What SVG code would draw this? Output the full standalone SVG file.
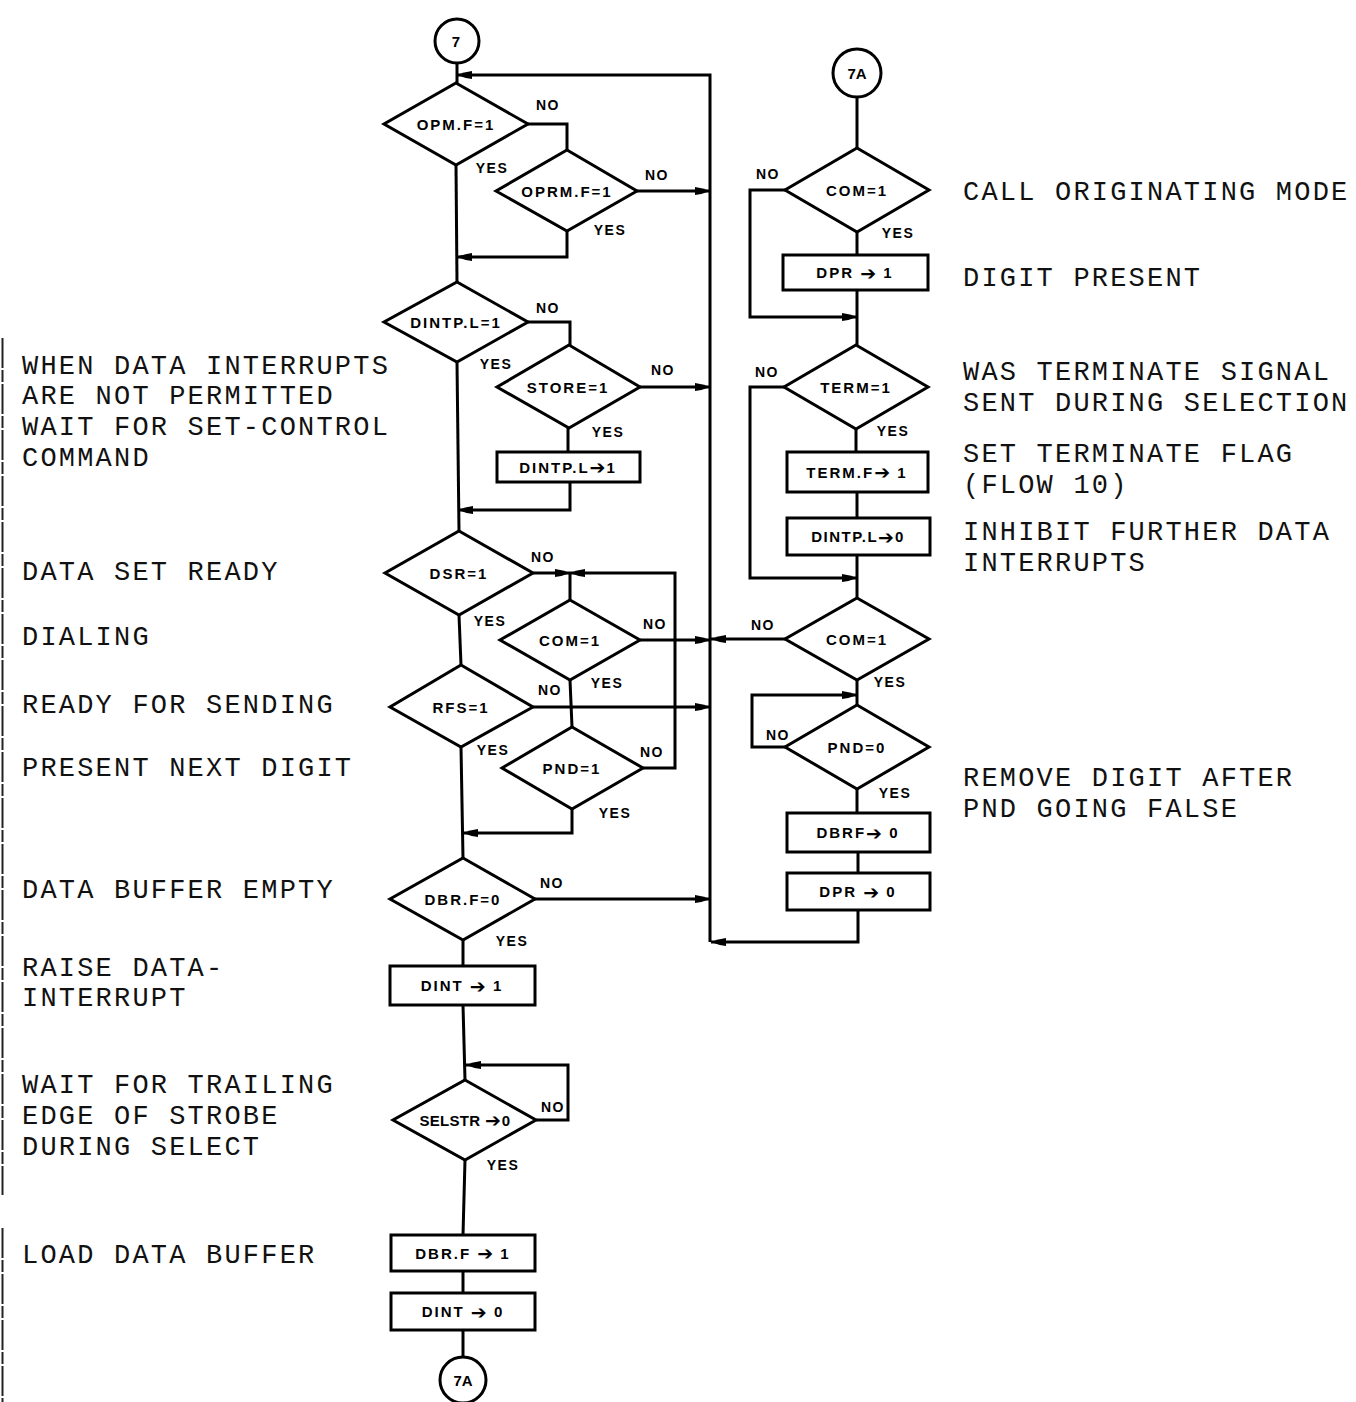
<svg xmlns="http://www.w3.org/2000/svg" width="1356" height="1402" viewBox="0 0 1356 1402">
<style>
.shape{fill:#fff;stroke:#000;stroke-width:3;stroke-linejoin:miter}
.ln{fill:none;stroke:#000;stroke-width:3}
.lbl{font-family:"Liberation Sans",Arial,sans-serif;font-weight:bold;font-size:15px;letter-spacing:2px;text-anchor:middle;dominant-baseline:central;fill:#000}
.ar{font-family:"DejaVu Sans",sans-serif;font-size:19px;letter-spacing:1px}
.yn{font-family:"Liberation Sans",Arial,sans-serif;font-weight:bold;font-size:14px;letter-spacing:1.5px;text-anchor:middle;dominant-baseline:central;fill:#000}
.note{font-family:"Liberation Mono","Courier New",monospace;font-size:27px;letter-spacing:2.2px;fill:#111}
</style>
<defs>
<marker id="ah" markerUnits="userSpaceOnUse" markerWidth="16" markerHeight="10" refX="15" refY="5" orient="auto">
<path d="M0,1 Q8,2 15,5 Q8,8 0,9 Z" fill="#000"/>
</marker>
</defs>
<rect width="1356" height="1402" fill="#fff"/>
<path d="M2.5,338 V1195 M2.5,1228 V1402" stroke="#222" stroke-width="2" stroke-dasharray="30 2 12 2" fill="none"/>

<g id="connectors">
<path class="ln" d="M457,63 V83"/>
<path class="ln" d="M710,942 V75 H457" marker-end="url(#ah)"/>
<path class="ln" d="M527,124 H567 V150"/>
<path class="ln" d="M637,191 H710" marker-end="url(#ah)"/>
<path class="ln" d="M456,165 L457,282"/>
<path class="ln" d="M567,230 V257 H457" marker-end="url(#ah)"/>
<path class="ln" d="M528,322 H570 V345"/>
<path class="ln" d="M640,387 H710" marker-end="url(#ah)"/>
<path class="ln" d="M568,427 V452"/>
<path class="ln" d="M570,482 V510 H458" marker-end="url(#ah)"/>
<path class="ln" d="M457,362 L459,531"/>
<path class="ln" d="M533,573 H570" marker-end="url(#ah)"/>
<path class="ln" d="M643,768 H675 V573 H570" marker-end="url(#ah)"/>
<path class="ln" d="M570,573 V600"/>
<path class="ln" d="M640,640 H710" marker-end="url(#ah)"/>
<path class="ln" d="M570,680 L572,727"/>
<path class="ln" d="M459,615 L461,665"/>
<path class="ln" d="M533,707 H710" marker-end="url(#ah)"/>
<path class="ln" d="M572,809 V833 H463" marker-end="url(#ah)"/>
<path class="ln" d="M461,747 L463,858"/>
<path class="ln" d="M535,899 H710" marker-end="url(#ah)"/>
<path class="ln" d="M463,940 V966"/>
<path class="ln" d="M463,1005 L465,1080"/>
<path class="ln" d="M536,1120 H568 V1065 H466" marker-end="url(#ah)"/>
<path class="ln" d="M465,1160 L463,1235"/>
<path class="ln" d="M463,1271 V1293"/>
<path class="ln" d="M463,1330 V1357"/>
<path class="ln" d="M857,97 V148"/>
<path class="ln" d="M857,232 V255"/>
<path class="ln" d="M785,190 H750 V317 H857" marker-end="url(#ah)"/>
<path class="ln" d="M857,290 V345"/>
<path class="ln" d="M856,429 V452"/>
<path class="ln" d="M857,492 V518"/>
<path class="ln" d="M784,387 H750 V578 H857" marker-end="url(#ah)"/>
<path class="ln" d="M857,555 V598"/>
<path class="ln" d="M785,639 H711" marker-end="url(#ah)"/>
<path class="ln" d="M857,680 V705"/>
<path class="ln" d="M785,747 H752 V695 H857" marker-end="url(#ah)"/>
<path class="ln" d="M857,789 V813"/>
<path class="ln" d="M858,852 V873"/>
<path class="ln" d="M858,910 V942 H711" marker-end="url(#ah)"/>
</g>

<g id="c7"><circle class="shape" cx="457" cy="41" r="22"/><text class="lbl" x="457" y="41">7</text></g>
<g id="opmf"><polygon class="shape" points="456,83 528,124 456,165 384,124"/><text class="lbl" x="456" y="124">OPM.F=1</text></g>
<g id="oprmf"><polygon class="shape" points="567,150 637,191 567,231 496,191"/><text class="lbl" x="567" y="191">OPRM.F=1</text></g>
<g id="dintpl1"><polygon class="shape" points="457,282 528,322 457,362 384,322"/><text class="lbl" x="456" y="322">DINTP.L=1</text></g>
<g id="store"><polygon class="shape" points="569,345 640,387 569,428 497,387"/><text class="lbl" x="568" y="387">STORE=1</text></g>
<g id="setdintpl"><rect class="shape" x="497" y="452" width="143" height="30"/><text class="lbl" x="568" y="467">DINTP.L<tspan class="ar">➔</tspan>1</text></g>
<g id="dsr"><polygon class="shape" points="459,531 533,573 459,615 385,573"/><text class="lbl" x="459" y="573">DSR=1</text></g>
<g id="com1l"><polygon class="shape" points="570,600 640,640 570,680 500,640"/><text class="lbl" x="570" y="640">COM=1</text></g>
<g id="rfs"><polygon class="shape" points="461,665 533,707 461,747 390,707"/><text class="lbl" x="461" y="707">RFS=1</text></g>
<g id="pnd1"><polygon class="shape" points="572,727 643,768 572,809 502,768"/><text class="lbl" x="572" y="768">PND=1</text></g>
<g id="dbrf0"><polygon class="shape" points="463,858 535,899 463,940 390,899"/><text class="lbl" x="463" y="899">DBR.F=0</text></g>
<g id="dint1"><rect class="shape" x="390" y="966" width="145" height="39"/><text class="lbl" x="462" y="985.5">DINT <tspan class="ar">➔</tspan> 1</text></g>
<g id="selstr"><polygon class="shape" points="465,1080 536,1120 465,1160 393,1120"/><text class="lbl" x="465" y="1120" style="letter-spacing:0.3px">SELSTR <tspan class="ar">➔</tspan>0</text></g>
<g id="dbrf1"><rect class="shape" x="391" y="1235" width="144" height="36"/><text class="lbl" x="463" y="1253">DBR.F <tspan class="ar">➔</tspan> 1</text></g>
<g id="dint0"><rect class="shape" x="391" y="1293" width="144" height="37"/><text class="lbl" x="463" y="1311.5">DINT  <tspan class="ar">➔</tspan> 0</text></g>
<g id="c7a_bottom"><circle class="shape" cx="463" cy="1380" r="23"/><text class="lbl" x="463" y="1380" style="letter-spacing:0">7A</text></g>

<g id="c7a_top"><circle class="shape" cx="857" cy="73" r="24"/><text class="lbl" x="857" y="73" style="letter-spacing:0">7A</text></g>
<g id="com1r"><polygon class="shape" points="857,148 929,190 857,232 785,190"/><text class="lbl" x="857" y="190">COM=1</text></g>
<g id="dpr1"><rect class="shape" x="783" y="255" width="145" height="35"/><text class="lbl" x="855" y="272.5">DPR  <tspan class="ar">➔</tspan> 1</text></g>
<g id="term"><polygon class="shape" points="856,345 928,387 856,429 784,387"/><text class="lbl" x="856" y="387">TERM=1</text></g>
<g id="termf"><rect class="shape" x="787" y="452" width="141" height="40"/><text class="lbl" x="857" y="472">TERM.F<tspan class="ar">➔</tspan> 1</text></g>
<g id="dintpl0"><rect class="shape" x="787" y="518" width="143" height="37"/><text class="lbl" x="858" y="536.5" style="letter-spacing:1.5px">DINTP.L<tspan class="ar">➔</tspan>0</text></g>
<g id="com1r2"><polygon class="shape" points="857,598 929,639 857,680 785,639"/><text class="lbl" x="857" y="639">COM=1</text></g>
<g id="pnd0"><polygon class="shape" points="857,705 929,747 857,789 785,747"/><text class="lbl" x="857" y="747">PND=0</text></g>
<g id="dbrf_0"><rect class="shape" x="787" y="813" width="143" height="39"/><text class="lbl" x="858" y="832.5">DBRF<tspan class="ar">➔</tspan> 0</text></g>
<g id="dpr0"><rect class="shape" x="787" y="873" width="143" height="37"/><text class="lbl" x="858" y="891.5">DPR  <tspan class="ar">➔</tspan>  0</text></g>

<g id="yesno">
<text class="yn" x="548" y="105">NO</text><text class="yn" x="492" y="168">YES</text>
<text class="yn" x="657" y="175">NO</text><text class="yn" x="610" y="230">YES</text>
<text class="yn" x="548" y="308">NO</text><text class="yn" x="496" y="364">YES</text>
<text class="yn" x="663" y="370">NO</text><text class="yn" x="608" y="432">YES</text>
<text class="yn" x="543" y="557">NO</text><text class="yn" x="490" y="621">YES</text>
<text class="yn" x="655" y="624">NO</text><text class="yn" x="607" y="683">YES</text>
<text class="yn" x="550" y="690">NO</text><text class="yn" x="493" y="750">YES</text>
<text class="yn" x="652" y="752">NO</text><text class="yn" x="615" y="813">YES</text>
<text class="yn" x="552" y="883">NO</text><text class="yn" x="512" y="941">YES</text>
<text class="yn" x="553" y="1107">NO</text><text class="yn" x="503" y="1165">YES</text>
<text class="yn" x="768" y="174">NO</text><text class="yn" x="898" y="233">YES</text>
<text class="yn" x="767" y="372">NO</text><text class="yn" x="893" y="431">YES</text>
<text class="yn" x="763" y="625">NO</text><text class="yn" x="890" y="682">YES</text>
<text class="yn" x="778" y="735">NO</text><text class="yn" x="895" y="793">YES</text>
</g>

<g id="notes">
<text class="note" x="963" y="200">CALL ORIGINATING MODE</text>
<text class="note" x="963" y="286">DIGIT PRESENT</text>
<text class="note" x="963" y="380">WAS TERMINATE SIGNAL</text>
<text class="note" x="963" y="411">SENT DURING SELECTION</text>
<text class="note" x="963" y="462">SET TERMINATE FLAG</text>
<text class="note" x="963" y="493">(FLOW 10)</text>
<text class="note" x="963" y="540">INHIBIT FURTHER DATA</text>
<text class="note" x="963" y="571">INTERRUPTS</text>
<text class="note" x="963" y="786">REMOVE DIGIT AFTER</text>
<text class="note" x="963" y="817">PND GOING FALSE</text>
<text class="note" x="22" y="374">WHEN DATA INTERRUPTS</text>
<text class="note" x="22" y="404">ARE NOT PERMITTED</text>
<text class="note" x="22" y="435">WAIT FOR SET-CONTROL</text>
<text class="note" x="22" y="466">COMMAND</text>
<text class="note" x="22" y="580">DATA SET READY</text>
<text class="note" x="22" y="645">DIALING</text>
<text class="note" x="22" y="713">READY FOR SENDING</text>
<text class="note" x="22" y="776">PRESENT NEXT DIGIT</text>
<text class="note" x="22" y="898">DATA BUFFER EMPTY</text>
<text class="note" x="22" y="976">RAISE DATA-</text>
<text class="note" x="22" y="1006">INTERRUPT</text>
<text class="note" x="22" y="1093">WAIT FOR TRAILING</text>
<text class="note" x="22" y="1124">EDGE OF STROBE</text>
<text class="note" x="22" y="1155">DURING SELECT</text>
<text class="note" x="22" y="1263">LOAD DATA BUFFER</text>
</g>
</svg>
